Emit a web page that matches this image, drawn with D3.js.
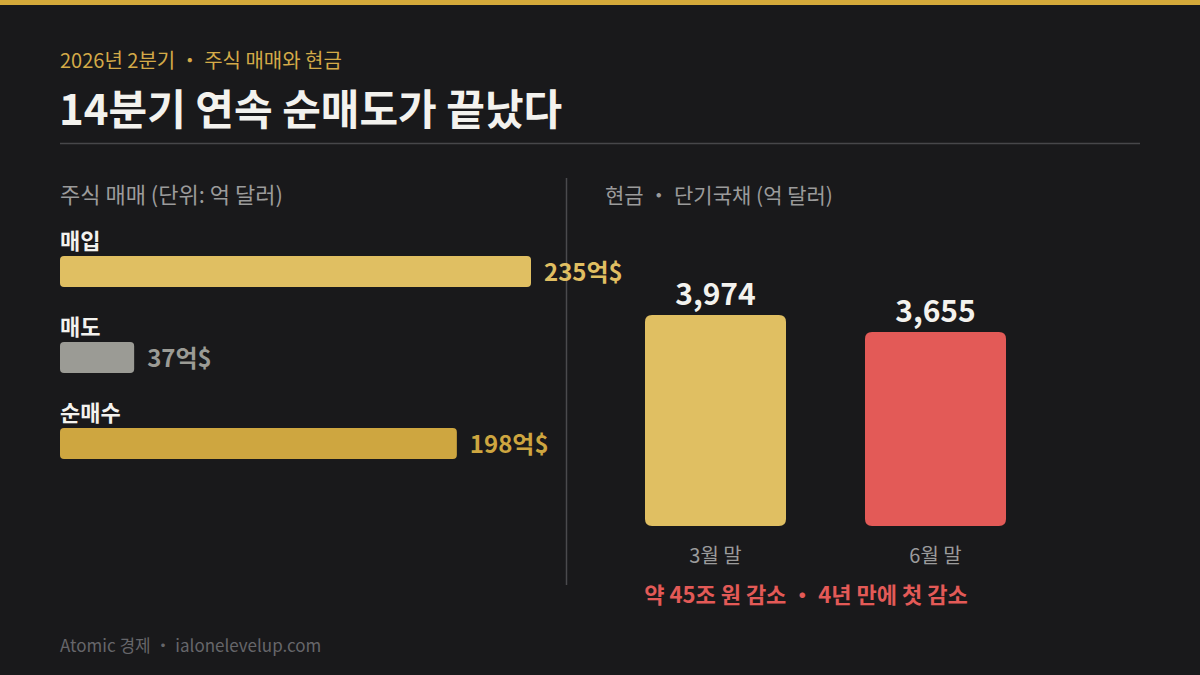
<!DOCTYPE html>
<html><head><meta charset="utf-8">
<script src="https://cdn.jsdelivr.net/npm/d3@7"></script>
<style>
html,body{margin:0;padding:0;background:#19191b;}
svg{display:block;font-family:"Noto Sans CJK KR","Noto Sans",sans-serif;}
</style></head>
<body>
<svg id="c" width="1200" height="675"></svg>
<script>
const tradeCategories = ["매입", "매도", "순매수"];
const tradeValues = [235, 37, 198];
const tradeLabels = ["235억$", "37억$", "198억$"];
const cashCategories = ["3월 말", "6월 말"];
const cashValues = [3974, 3655];
const cashLabels = ["3,974", "3,655"];

const svg = d3.select("#c");
svg.append("rect").attr("width",1200).attr("height",675).attr("fill","#19191b");
svg.append("rect").attr("width",1200).attr("height",5).attr("fill","#d4a93a");

svg.append("text").attr("x",60).attr("y",68).attr("fill","#d4aa48").attr("font-size",20)
  .text("2026년 2분기 ・ 주식 매매와 현금");
svg.append("text").attr("x",59).attr("y",125).attr("fill","#f3f2ee").attr("font-size",42).attr("font-weight",700)
  .text("14분기 연속 순매도가 끝났다");
svg.append("line").attr("x1",60).attr("x2",1140).attr("y1",143.5).attr("y2",143.5).attr("stroke","#47474a").attr("stroke-width",1.5);

// panel divider
svg.append("line").attr("x1",566.5).attr("x2",566.5).attr("y1",178).attr("y2",585).attr("stroke","#4a4a4d").attr("stroke-width",1.5);

// left panel
svg.append("text").attr("x",60).attr("y",203).attr("fill","#9b9b9b").attr("font-size",22)
  .text("주식 매매 (단위: 억 달러)");

const x = d3.scaleLinear().domain([0, 235]).range([60, 531]);
const yBand = d3.scalePoint().domain(tradeCategories).range([256, 428]);
const barColors = ["#e0bf62", "#9b9b95", "#cea640"];
const labelColors = ["#e0bf62", "#9b9b95", "#cea640"];
const bh = 31;

const g = svg.append("g");
tradeCategories.forEach((c, i) => {
  const y0 = yBand(c);
  g.append("text").attr("x",60).attr("y",y0-7).attr("fill","#f3f2ee").attr("font-size",22).attr("font-weight",700).text(c);
  g.append("rect").attr("x",x(0)).attr("y",y0).attr("width",x(tradeValues[i])-x(0)).attr("height",bh)
    .attr("rx",4).attr("fill",barColors[i]);
  g.append("text").attr("x",x(tradeValues[i])+13).attr("y",y0+bh/2+9).attr("fill",labelColors[i])
    .attr("font-size",24).attr("font-weight",700).text(tradeLabels[i]);
});

// right panel
svg.append("text").attr("x",605).attr("y",203).attr("fill","#9b9b9b").attr("font-size",21)
  .text("현금 ・ 단기국채 (억 달러)");

const xb = d3.scaleBand().domain(cashCategories).range([645, 1006]).paddingInner(79/220).paddingOuter(0);
const yv = d3.scaleLinear().domain([0, 3974]).range([526, 315]);
const cashColors = ["#e0bf62", "#e35a57"];
cashCategories.forEach((c, i) => {
  const bx = xb(c), bw = xb.bandwidth();
  svg.append("path").attr("fill",cashColors[i])
    .attr("d", roundedRect(bx, yv(cashValues[i]), bw, yv(0)-yv(cashValues[i]), 7));
  svg.append("text").attr("x",bx+bw/2).attr("y",yv(cashValues[i])-10).attr("text-anchor","middle")
    .attr("fill","#f3f2ee").attr("font-size",30).attr("font-weight",700).text(cashLabels[i]);
  svg.append("text").attr("x",bx+bw/2).attr("y",563).attr("text-anchor","middle")
    .attr("fill","#9b9b9b").attr("font-size",20).text(c);
});

function roundedRect(x0, y0, w, h, r){
  return `M${x0},${y0+r}Q${x0},${y0} ${x0+r},${y0}H${x0+w-r}Q${x0+w},${y0} ${x0+w},${y0+r}V${y0+h-r}Q${x0+w},${y0+h} ${x0+w-r},${y0+h}H${x0+r}Q${x0},${y0+h} ${x0},${y0+h-r}Z`;
}

svg.append("text").attr("x",806).attr("y",603).attr("text-anchor","middle").attr("fill","#e35a57")
  .attr("font-size",22).attr("font-weight",700).text("약 45조 원 감소 ・ 4년 만에 첫 감소");

svg.append("text").attr("x",60).attr("y",652).attr("fill","#66666a").attr("font-size",17)
  .text("Atomic 경제 ・ ialonelevelup.com");
</script>
</body></html>
